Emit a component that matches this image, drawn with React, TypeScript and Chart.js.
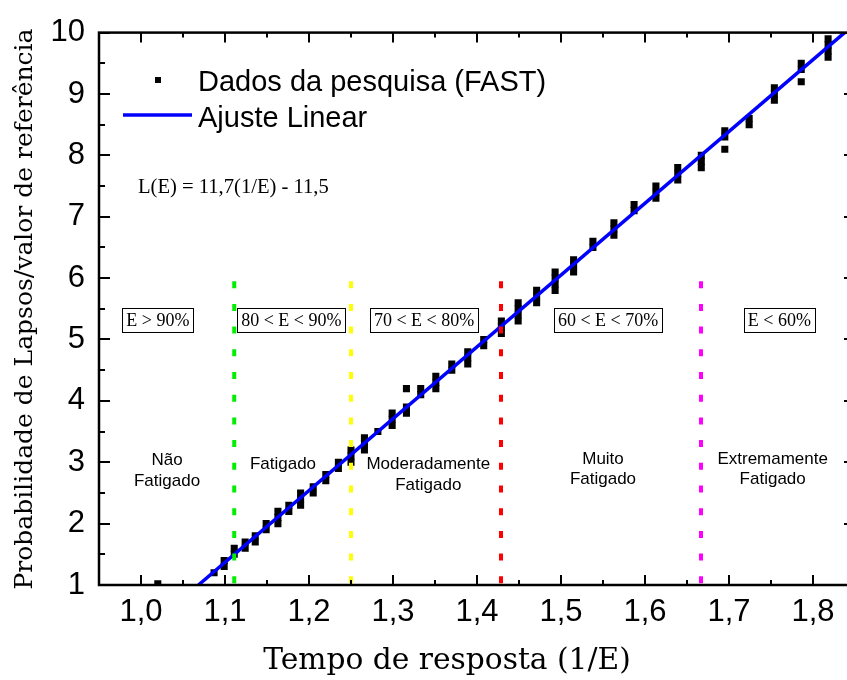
import React, { useEffect, useRef } from 'react';
import { Chart, registerables } from 'chart.js';
Chart.register(...registerables);

// 1/E values (x)
const xRecip = [1.020, 1.087, 1.099, 1.111, 1.124, 1.136, 1.149, 1.163, 1.176, 1.190, 1.205, 1.220, 1.235, 1.250, 1.266, 1.282, 1.299, 1.316, 1.333, 1.351, 1.370, 1.389, 1.408, 1.429, 1.449, 1.471, 1.493, 1.515, 1.538, 1.563, 1.587, 1.613, 1.639, 1.667, 1.695, 1.724, 1.754, 1.786, 1.818];
// lapse ratios observed at each 1/E
const yLapses = [
  [1.02],
  [1.2],
  [1.3, 1.4],
  [1.5, 1.6],
  [1.6, 1.7],
  [1.7, 1.8],
  [1.9, 2.0],
  [2.0, 2.1, 2.2],
  [2.2, 2.3],
  [2.3, 2.4, 2.5],
  [2.5, 2.6],
  [2.7, 2.8],
  [2.9, 3.0],
  [3.0, 3.1, 3.2],
  [3.2, 3.3, 3.4],
  [3.5],
  [3.6, 3.7, 3.8],
  [3.8, 3.9, 4.2],
  [4.1, 4.2],
  [4.2, 4.3, 4.4],
  [4.5, 4.6],
  [4.6, 4.7, 4.8],
  [4.9, 5.0],
  [5.1, 5.2, 5.3],
  [5.3, 5.4, 5.5, 5.6],
  [5.6, 5.7, 5.8],
  [5.8, 5.9, 6.0, 6.1],
  [6.1, 6.2, 6.3],
  [6.5, 6.6],
  [6.7, 6.8, 6.9],
  [7.1, 7.2],
  [7.3, 7.4, 7.5],
  [7.6, 7.7, 7.8],
  [7.8, 7.9, 8.0],
  [8.1, 8.3, 8.4],
  [8.5, 8.6],
  [8.9, 9.0, 9.1],
  [9.2, 9.4, 9.5],
  [9.6, 9.7, 9.8, 9.9],
];

const fitSlope = 11.7;
const fitIntercept = -11.5;

const thresholds = [1.111, 1.25, 1.4286, 1.6667];
const thresholdColors = ['#00ee00', '#ffff00', '#ff0000', '#ff00ff'];

const xTickValues = [1.0, 1.1, 1.2, 1.3, 1.4, 1.5, 1.6, 1.7, 1.8];
const yTickValues = [1, 2, 3, 4, 5, 6, 7, 8, 9, 10];

const rangeLabels = ['E > 90%', '80 < E < 90%', '70 < E < 80%', '60 < E < 70%', 'E < 60%'];
const rangeLabelX = [1.02, 1.179, 1.337, 1.556, 1.76];
const stateLabels = [['Não', 'Fatigado'], ['Fatigado'], ['Moderadamente', 'Fatigado'], ['Muito', 'Fatigado'], ['Extremamente', 'Fatigado']];
const stateLabelX = [1.031, 1.169, 1.342, 1.55, 1.752];
const stateLabelY = [2.953, 2.883, 2.883, 2.979, 2.979];

const X_MIN = 0.95, X_MAX = 1.85, Y_MIN = 1, Y_MAX = 10;

const decorPlugin = {
  id: 'decor',
  afterDatasetsDraw(chart: any) {
    const { ctx, chartArea: a, scales } = chart;
    const x = scales.x, y = scales.y;
    ctx.save();
    // frame
    ctx.strokeStyle = '#000';
    ctx.lineWidth = 2.5;
    ctx.strokeRect(a.left, a.top, a.right - a.left, a.bottom - a.top);
    // ticks (inward)
    ctx.lineWidth = 2;
    ctx.beginPath();
    for (let i = 0; i <= 18; i++) {
      const v = X_MIN + i * 0.05;
      const major = i % 2 === 1;
      const len = major ? 10 : 5;
      const px = Math.round(x.getPixelForValue(v));
      ctx.moveTo(px, a.bottom); ctx.lineTo(px, a.bottom - len);
      ctx.moveTo(px, a.top); ctx.lineTo(px, a.top + len);
    }
    for (let i = 0; i <= 18; i++) {
      const v = Y_MIN + i * 0.5;
      const major = i % 2 === 0;
      const len = major ? 11 : 6;
      const py = Math.round(y.getPixelForValue(v));
      ctx.moveTo(a.left, py); ctx.lineTo(a.left + len, py);
      ctx.moveTo(a.right, py); ctx.lineTo(a.right - len, py);
    }
    ctx.stroke();

    // range boxes
    ctx.font = '18px "Liberation Serif"';
    ctx.textAlign = 'center';
    ctx.textBaseline = 'middle';
    const by = y.getPixelForValue(5.31);
    rangeLabels.forEach((t, i) => {
      const cx = x.getPixelForValue(rangeLabelX[i]);
      const w = ctx.measureText(t).width + 8;
      const h = 24;
      ctx.fillStyle = '#fff';
      ctx.fillRect(cx - w / 2, by - h / 2, w, h);
      ctx.strokeStyle = '#000';
      ctx.lineWidth = 1;
      ctx.strokeRect(Math.round(cx - w / 2) + 0.5, Math.round(by - h / 2) + 0.5, Math.round(w), h);
      ctx.fillStyle = '#000';
      ctx.fillText(t, cx, by + 1);
    });

    // state labels
    ctx.font = '17px "Liberation Sans"';
    ctx.textBaseline = 'alphabetic';
    ctx.fillStyle = '#000';
    stateLabels.forEach((lines, i) => {
      const cx = x.getPixelForValue(stateLabelX[i]);
      const y0 = y.getPixelForValue(stateLabelY[i]);
      lines.forEach((ln, j) => ctx.fillText(ln, cx, y0 + j * 20.6));
    });

    // equation
    ctx.textAlign = 'left';
    ctx.font = '20.6px "Liberation Serif"';
    ctx.fillText('L(E) = 11,7(1/E) - 11,5', 138, 193);

    // legend
    ctx.fillRect(155, 77, 6, 6);
    ctx.strokeStyle = '#0000ff';
    ctx.lineWidth = 3.5;
    ctx.beginPath();
    ctx.moveTo(123, 115); ctx.lineTo(192, 115);
    ctx.stroke();
    ctx.font = '29px "Liberation Sans"';
    ctx.fillText('Dados da pesquisa (FAST)', 198, 91);
    ctx.fillText('Ajuste Linear', 198, 127);

    // axis titles
    ctx.font = '29.7px "DejaVu Serif"';
    ctx.textAlign = 'center';
    ctx.fillText('Tempo de resposta (1/E)', 447, 669);
    ctx.save();
    ctx.translate(31.5, 309);
    ctx.rotate(-Math.PI / 2);
    ctx.font = '25px "DejaVu Serif"';
    ctx.fillText('Probabilidade de Lapsos/valor de referência', 0, 0);
    ctx.restore();

    ctx.restore();
  },
};

export default function App() {
  const ref = useRef<HTMLCanvasElement | null>(null);
  useEffect(() => {
    if (!ref.current) return;
    const scatterPoints: { x: number; y: number }[] = [];
    xRecip.forEach((xv, i) => yLapses[i].forEach((yv) => scatterPoints.push({ x: xv, y: yv })));
    const fitPoints = [Y_MIN, Y_MAX].map((yv) => ({ x: (yv - fitIntercept) / fitSlope, y: yv }));
    const chart = new Chart(ref.current, {
      type: 'scatter',
      data: {
        datasets: [
          ...thresholds.map((t, i) => ({
            type: 'line' as const,
            data: [{ x: t, y: 5.95 }, { x: t, y: 1.0 }],
            borderColor: thresholdColors[i],
            borderWidth: 4,
            borderDash: [7, 15.7],
            pointRadius: 0,
            fill: false,
          })),
          {
            type: 'line' as const,
            data: fitPoints,
            borderColor: '#0000ff',
            borderWidth: 3.5,
            pointRadius: 0,
            fill: false,
          },
          {
            type: 'scatter' as const,
            data: scatterPoints,
            pointStyle: 'rect',
            pointRadius: 5,
            backgroundColor: '#000',
            borderWidth: 0,
          },
        ] as any,
      },
      options: {
        animation: false,
        responsive: false,
        devicePixelRatio: 1,
        layout: { padding: { top: 24, right: 7, left: 0, bottom: 0 } },
        plugins: { legend: { display: false }, tooltip: { enabled: false } },
        scales: {
          x: {
            type: 'linear',
            min: X_MIN,
            max: X_MAX,
            grid: { display: false, drawTicks: false },
            border: { display: false },
            afterBuildTicks: (s: any) => { s.ticks = xTickValues.map((v) => ({ value: v })); },
            afterFit: (s: any) => { s.height = 95; },
            ticks: {
              autoSkip: false,
              maxRotation: 0,
              padding: 9,
              color: '#000',
              font: { family: 'Liberation Sans', size: 31 },
              callback: (v: any) => Number(v).toFixed(1).replace('.', ','),
            },
          },
          y: {
            type: 'linear',
            min: Y_MIN,
            max: Y_MAX,
            grid: { display: false, drawTicks: false },
            border: { display: false },
            afterBuildTicks: (s: any) => { s.ticks = yTickValues.map((v) => ({ value: v })); },
            afterFit: (s: any) => { s.width = 99; },
            ticks: {
              autoSkip: false,
              padding: 14,
              color: '#000',
              font: { family: 'Liberation Sans', size: 31 },
              callback: (v: any) => String(v),
            },
          },
        },
      } as any,
      plugins: [decorPlugin],
    });
    return () => chart.destroy();
  }, []);
  return (
    <div style={{ position: 'absolute', left: 0, top: 0, width: 847, height: 680, overflow: 'hidden', background: '#fff' }}>
      <canvas ref={ref} width={862} height={680} style={{ display: 'block', width: 862, height: 680 }} />
    </div>
  );
}
